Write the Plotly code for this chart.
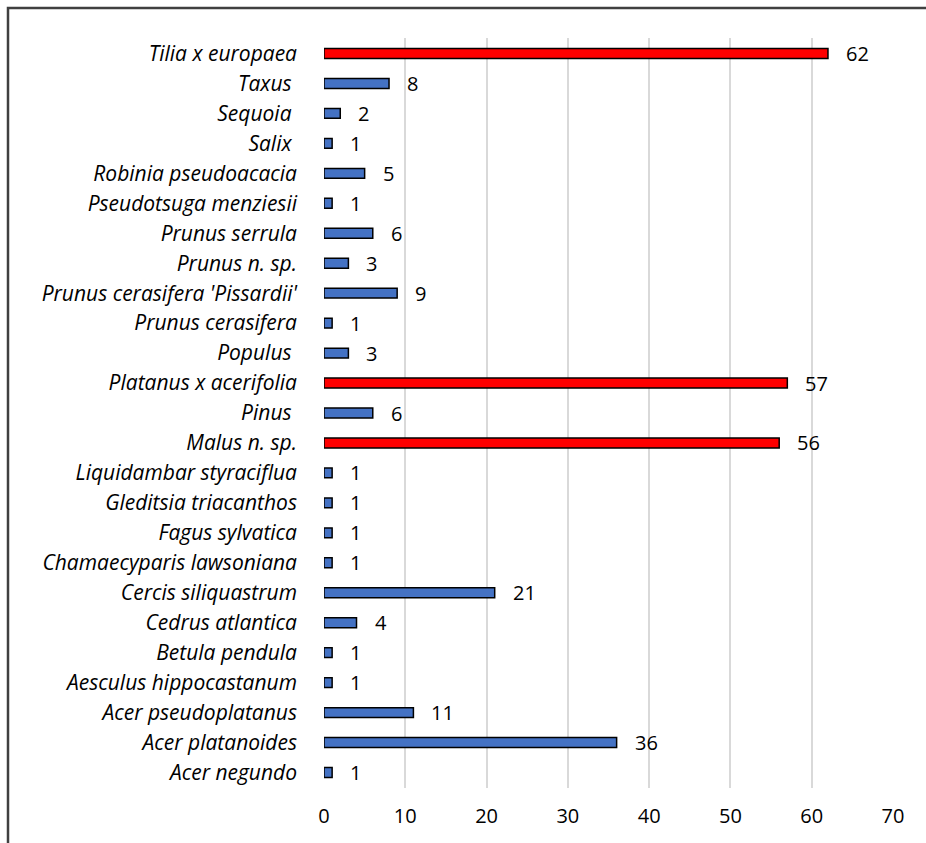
import plotly.graph_objects as go

species = [
    "Acer negundo", "Acer platanoides", "Acer pseudoplatanus", "Aesculus hippocastanum",
    "Betula pendula", "Cedrus atlantica", "Cercis siliquastrum", "Chamaecyparis lawsoniana",
    "Fagus sylvatica", "Gleditsia triacanthos", "Liquidambar styraciflua", "Malus n. sp.",
    "Pinus ", "Platanus x acerifolia", "Populus ", "Prunus cerasifera",
    "Prunus cerasifera 'Pissardii'", "Prunus n. sp.", "Prunus serrula", "Pseudotsuga menziesii",
    "Robinia pseudoacacia", "Salix ", "Sequoia ", "Taxus ", "Tilia x europaea",
]
counts = [1, 36, 11, 1, 1, 4, 21, 1, 1, 1, 1, 56, 6, 57, 3, 1, 9, 3, 6, 1, 5, 1, 2, 8, 62]
highlight = {"Malus n. sp.", "Platanus x acerifolia", "Tilia x europaea"}
x_ticks = [0, 10, 20, 30, 40, 50, 60, 70]

colors = ["#FF0000" if s in highlight else "#4472C4" for s in species]
FONT = "Open Sans"

fig = go.Figure()
fig.add_trace(go.Bar(
    y=species, x=counts, orientation="h",
    marker=dict(color=colors, line=dict(color="black", width=1.5)),
    width=0.33,
    hoverinfo="x+y",
))

for s, v in zip(species, counts):
    fig.add_annotation(x=v, y=s, text=str(v), showarrow=False, xanchor="left",
                       xshift=16, font=dict(family=FONT, size=20, color="black"))

fig.update_layout(
    width=926, height=843,
    margin=dict(l=324, r=33, t=38, b=55),
    paper_bgcolor="white", plot_bgcolor="white",
    showlegend=False,
    font=dict(family=FONT, size=20, color="black"),
    xaxis=dict(range=[0, 70], tickvals=x_ticks, showgrid=True, gridcolor="#D9D9D9",
               gridwidth=2, zeroline=False, showline=False, ticks="",
               tickfont=dict(family=FONT, size=20, color="black"), ticklabelstandoff=14),
    yaxis=dict(categoryorder="array", categoryarray=species, showgrid=False,
               zeroline=False, showline=False, ticks="", ticklabelstandoff=26,
               tickfont=dict(family=FONT, size=21, color="black", style="italic")),
    shapes=[dict(type="rect", xref="paper", yref="paper",
                 x0=-316/569, x1=1.2, y0=-0.2, y1=1 + 30/750,
                 line=dict(color="#404040", width=2.5), fillcolor="rgba(0,0,0,0)", layer="below")],
)

fig.write_html("out.html")
